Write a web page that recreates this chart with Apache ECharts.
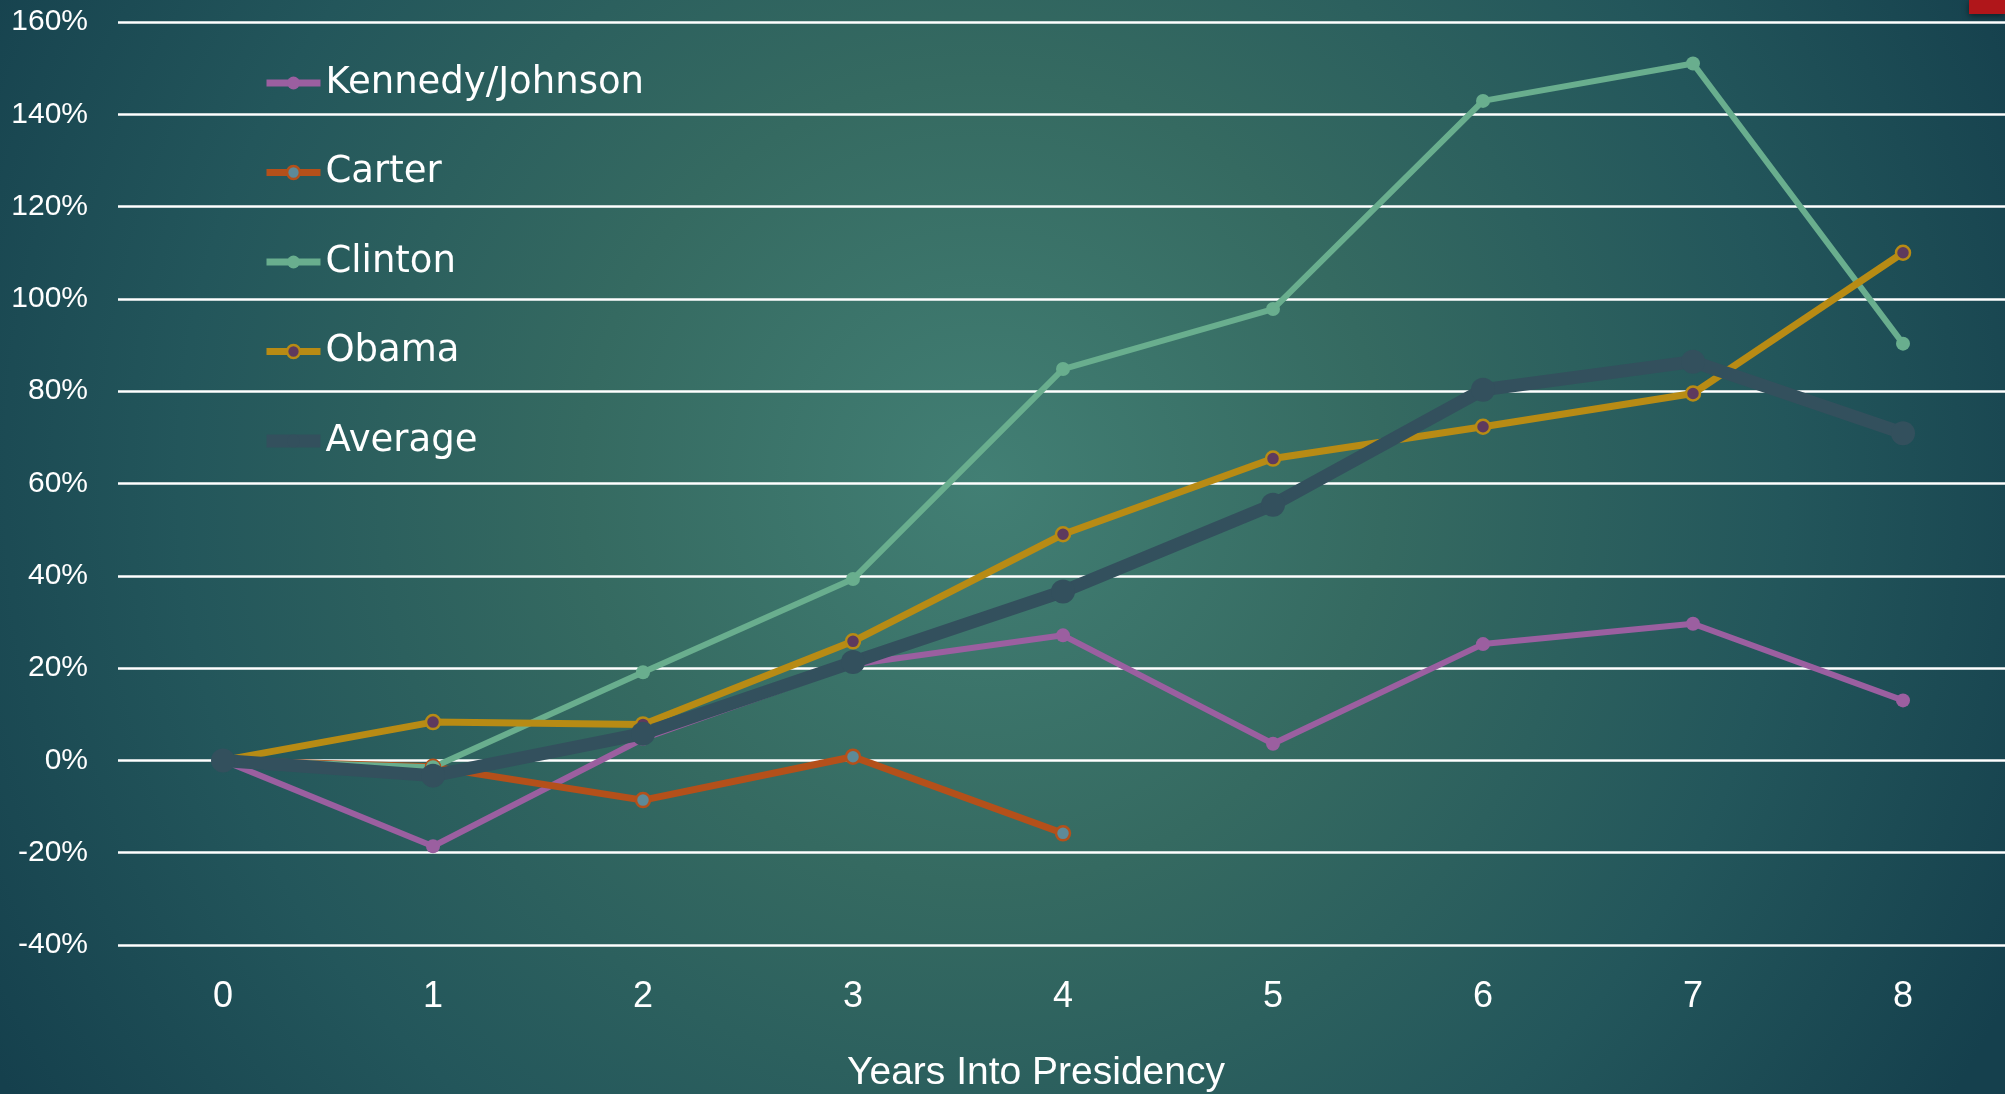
<!DOCTYPE html>
<html>
<head>
<meta charset="utf-8">
<title>Market Returns by Presidential Year</title>
<script src="https://cdn.jsdelivr.net/npm/echarts@6/dist/echarts.min.js"></script>
<style>
  html, body { margin: 0; padding: 0; width: 100%; height: 100%; overflow: hidden; background: #1d4b54; }
  #chart { width: 2005px; height: 1094px; }
</style>
</head>
<body>
<div id="chart"></div>
<script>
// Cumulative change (%) by years into each presidency
const years = ['0', '1', '2', '3', '4', '5', '6', '7', '8'];
const kennedyJohnson = [0, -18.6, 4.7, 20.8, 27.1, 3.6, 25.2, 29.6, 13.0];
const carter = [0, -1.4, -8.6, 0.8, -15.8];
const clinton = [0, -1.5, 19.1, 39.3, 84.8, 97.8, 142.9, 151.0, 90.3];
const obama = [0, 8.3, 7.8, 25.8, 49.0, 65.4, 72.3, 79.5, 110.0];
const average = [0, -3.3, 5.8, 21.3, 36.6, 55.4, 80.3, 86.4, 70.9];
const yTicks = { min: -40, max: 160, step: 20 };

const tickFont = '"Liberation Sans", "DejaVu Sans", sans-serif';
const legendFont = '"DejaVu Sans", "Liberation Sans", sans-serif';

// Per-series styling
const styles = {
  'Kennedy/Johnson': { line: '#9b5fa0', fill: '#9b5fa0', border: null, width: 6, size: 14 },
  'Carter': { line: '#b4501a', fill: '#5d8a98', border: '#b4501a', width: 7, size: 14 },
  'Clinton': { line: '#69ae8e', fill: '#69ae8e', border: null, width: 6, size: 14 },
  'Obama': { line: '#b88b14', fill: '#5e3a5e', border: '#b88b14', width: 7, size: 14 },
  'Average': { line: '#33505d', fill: '#33505d', border: null, width: 13, size: 24 }
};

function itemStyleOf(s) {
  return s.border
    ? { color: s.fill, borderColor: s.border, borderWidth: 2.5 }
    : { color: s.fill };
}

function lineSeries(name, data) {
  const s = styles[name];
  return {
    name: name,
    type: 'line',
    data: data,
    symbol: 'circle',
    symbolSize: s.size,
    lineStyle: { color: s.line, width: s.width },
    itemStyle: itemStyleOf(s),
    emphasis: { disabled: true }
  };
}

function legendItem(name) {
  const s = styles[name];
  return {
    name: name,
    itemStyle: itemStyleOf(s),
    lineStyle: { color: s.line, width: name === 'Average' ? 13 : 7 }
  };
}

const chart = echarts.init(document.getElementById('chart'), null, { renderer: 'canvas' });

chart.setOption({
  animation: false,
  backgroundColor: {
    type: 'radial', x: 0.49, y: 0.44, r: 1.05,
    colorStops: [
      { offset: 0, color: '#427f74' },
      { offset: 0.35, color: '#356a61' },
      { offset: 0.7, color: '#23565b' },
      { offset: 1, color: '#15404d' }
    ]
  },
  graphic: [{
    type: 'rect',
    right: 0, top: 0,
    shape: { width: 36, height: 14 },
    style: { fill: '#b0161a', shadowBlur: 6, shadowColor: 'rgba(0,0,0,0.5)', shadowOffsetY: 2 }
  }],
  grid: { left: 118, right: -3, top: 22, bottom: 149, containLabel: false, outerBoundsMode: 'none' },
  legend: {
    orient: 'vertical',
    left: 255,
    top: 58,
    itemWidth: 54,
    itemHeight: 16,
    itemGap: 49.5,
    textStyle: { color: '#ffffff', fontFamily: legendFont, fontSize: 37, lineHeight: 40 },
    data: ['Kennedy/Johnson', 'Carter', 'Clinton', 'Obama', 'Average'].map(legendItem)
  },
  xAxis: {
    type: 'category',
    data: years,
    boundaryGap: true,
    axisLine: { show: false },
    axisTick: { show: false },
    axisLabel: { color: '#ffffff', fontFamily: tickFont, fontSize: 36, margin: 34 },
    name: 'Years Into Presidency',
    nameLocation: 'middle',
    nameGap: 109,
    nameTextStyle: { color: '#ffffff', fontFamily: tickFont, fontSize: 39, padding: [0, 54, 0, 0] }
  },
  yAxis: {
    type: 'value',
    min: yTicks.min,
    max: yTicks.max,
    interval: yTicks.step,
    axisLine: { show: false },
    axisTick: { show: false },
    axisLabel: { color: '#ffffff', fontFamily: tickFont, fontSize: 30, margin: 30, formatter: '{value}%' },
    splitLine: { lineStyle: { color: '#ffffff', width: 2.5 } }
  },
  series: [
    lineSeries('Kennedy/Johnson', kennedyJohnson),
    lineSeries('Carter', carter),
    lineSeries('Clinton', clinton),
    lineSeries('Obama', obama),
    lineSeries('Average', average)
  ]
});
</script>
</body>
</html>
